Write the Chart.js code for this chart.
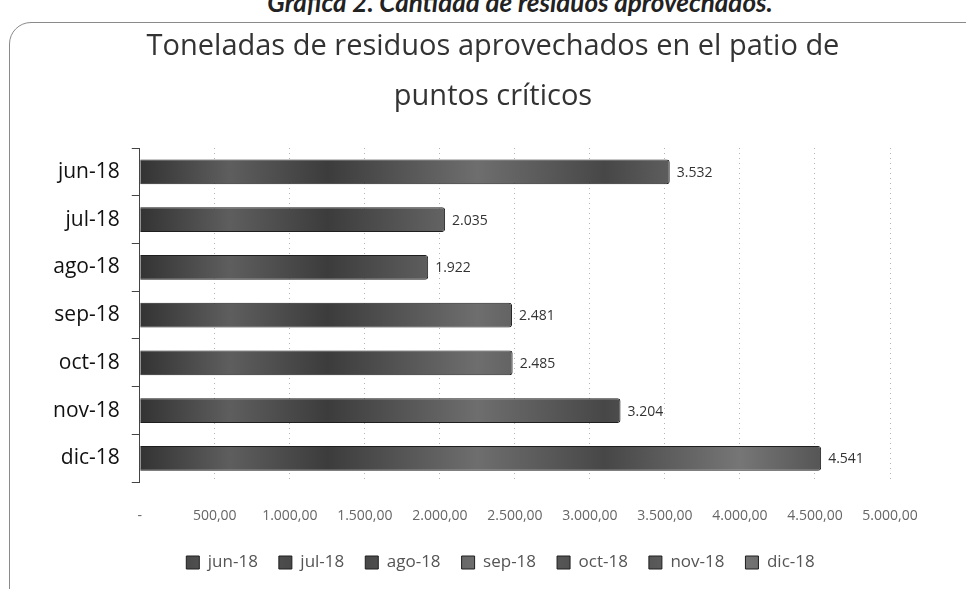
<!DOCTYPE html>
<html>
<head>
<meta charset="utf-8">
<script src="https://cdn.jsdelivr.net/npm/chart.js@4"></script>
<style>
  body { margin: 0; background: #fff; width: 966px; height: 589px; overflow: hidden; position: relative; }
  #caption { position: absolute; left: 0; top: -14px; width: 1040px; text-align: center; font: italic bold 26px Lato, sans-serif; color: #222; }
  #frame { position: absolute; left: 9px; top: 22px; width: 1000px; height: 620px; border: 1px solid #8a8a8a; border-top-left-radius: 22px; }
  #wrap { position: absolute; left: 0; top: 0; width: 966px; height: 589px; }
</style>
</head>
<body>
<div id="caption">Gráfica 2. Cantidad de residuos aprovechados.</div>
<div id="frame"></div>
<div id="wrap"><canvas id="myChart"></canvas></div>
<script>
// datos de la grafica
var meses = ['jun-18', 'jul-18', 'ago-18', 'sep-18', 'oct-18', 'nov-18', 'dic-18'];
var toneladas = [3532, 2035, 1922, 2481, 2485, 3204, 4541];
var ticksX = [0, 500, 1000, 1500, 2000, 2500, 3000, 3500, 4000, 4500, 5000];
var titulo = ['Toneladas de residuos aprovechados en el patio de', 'puntos críticos'];

// formato 1.000,00
function miles(n) {
    return String(n).replace(/\B(?=(\d{3})+(?!\d))/g, '.');
}
function formatoTick(v) {
    if (v === 0) return '-';
    return miles(v) + ',00';
}

function relleno(context) {
    var chart = context.chart;
    var area = chart.chartArea;
    if (!area) return '#555';
    var g = chart.ctx.createLinearGradient(area.left, 0, area.right, 0);
    g.addColorStop(0, '#333');
    g.addColorStop(0.12, '#5e5e5e');
    g.addColorStop(0.25, '#3c3c3c');
    g.addColorStop(0.45, '#6e6e6e');
    g.addColorStop(0.62, '#474747');
    g.addColorStop(0.8, '#767676');
    g.addColorStop(1, '#3a3a3a');
    return g;
}

// un dataset por mes, como en la leyenda original
var datasets = meses.map(function (m, i) {
    return {
        label: m,
        data: meses.map(function (x, j) { return j === i ? toneladas[i] : null; }),
        backgroundColor: relleno,
        borderColor: '#1e1e1e',
        borderWidth: 1,
        borderRadius: 3,
        borderSkipped: 'start',
        barPercentage: 0.52,
        categoryPercentage: 1
    };
});

// etiquetas de valor al final de cada barra
var etiquetas = {
    id: 'etiquetas',
    afterDatasetsDraw: function (chart) {
        var ctx = chart.ctx;
        ctx.save();
        ctx.font = '14px "Open Sans", sans-serif';
        ctx.fillStyle = '#333';
        ctx.textBaseline = 'middle';
        chart.data.datasets.forEach(function (ds, i) {
            var meta = chart.getDatasetMeta(i);
            meta.data.forEach(function (el, j) {
                if (ds.data[j] == null) return;
                ctx.fillText(miles(ds.data[j]), el.x + 7, el.y + 1);
            });
        });
        ctx.restore();
    }
};

// titulo en dos lineas
var tituloPlugin = {
    id: 'tituloPlugin',
    afterLayout: function (chart) {
        // la leyenda va un poco a la derecha, como en el original
        chart.legend.left += 35;
        chart.legend.right += 35;
    },
    afterDraw: function (chart) {
        var ctx = chart.ctx;
        ctx.save();
        ctx.font = '29px "Open Sans", sans-serif';
        ctx.fillStyle = '#333';
        ctx.textAlign = 'center';
        ctx.textBaseline = 'middle';
        var cx = (chart.width + 20) / 2;
        titulo.forEach(function (t, i) {
            ctx.fillText(t, cx, 47 + i * 50);
        });
        ctx.restore();
    }
};

var ctx = document.getElementById('myChart').getContext('2d');
var myChart = new Chart(ctx, {
    type: 'bar',
    data: { labels: meses, datasets: datasets },
    plugins: [etiquetas, tituloPlugin],
    options: {
        indexAxis: 'y',
        responsive: true,
        maintainAspectRatio: false,
        animation: false,
        layout: { padding: { top: 148, right: 76, bottom: 8, left: 41 } },
        scales: {
            x: {
                stacked: true,
                min: 0,
                max: 5000,
                afterBuildTicks: function (axis) {
                    axis.ticks = ticksX.map(function (v) { return { value: v }; });
                },
                afterFit: function (axis) {
                    axis.height -= 16;
                },
                border: { display: false, dash: [1, 4] },
                grid: { color: '#b4b4b4', lineWidth: 1, drawTicks: false },
                ticks: {
                    callback: function (v) { return formatoTick(v); },
                    color: '#666',
                    font: { size: 14, family: 'Open Sans' },
                    padding: 25,
                    maxRotation: 0,
                    autoSkip: false
                }
            },
            y: {
                stacked: true,
                border: { display: true, color: '#444', width: 1 },
                grid: { drawOnChartArea: false, color: '#444', tickLength: 8, offset: true },
                ticks: { color: '#111', font: { size: 21, family: 'Open Sans' }, padding: 12 }
            }
        },
        plugins: {
            legend: {
                position: 'bottom',
                labels: {
                    boxWidth: 13,
                    boxHeight: 13,
                    color: '#555',
                    font: { size: 17, family: 'Open Sans' },
                    padding: 21
                }
            },
            tooltip: { enabled: false }
        }
    }
});
</script>
</body>
</html>
